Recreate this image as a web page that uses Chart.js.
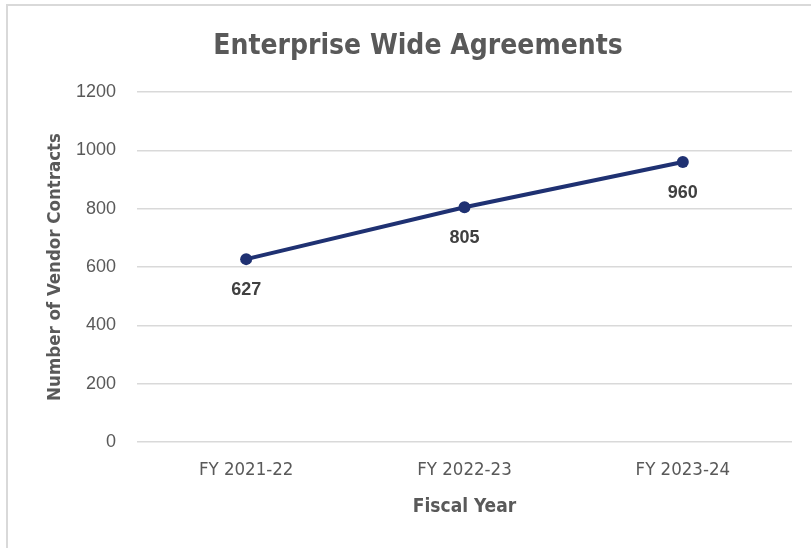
<!DOCTYPE html>
<html>
<head>
<meta charset="utf-8">
<script src="https://cdn.jsdelivr.net/npm/chart.js@4.4.1/dist/chart.umd.min.js"></script>
<style>
	html, body { margin: 0; padding: 0; background: #fff; }
	#frame {
		position: absolute; left: 6px; top: 4px; width: 900px; height: 600px;
		border-left: 2px solid #d9d9d9; border-top: 2px solid #d9d9d9;
	}
	#chart { position: absolute; left: 0; top: 0; }
</style>
</head>
<body>
<div id="frame"></div>
<canvas id="chart" width="811" height="548"></canvas>
<script>
const fiscal_years = ["FY 2021-22", "FY 2022-23", "FY 2023-24"];
const contracts = [627, 805, 960];
const y_ticks = [0, 200, 400, 600, 800, 1000, 1200];

const narrow = '"Liberation Sans Narrow", "DejaVu Sans Condensed", sans-serif';
const arial = '"Liberation Sans", Arial, sans-serif';
const line_color = '#1f3172';

// title drawn by hand so it can sit a bit right of centre like the original
const titlePlugin = {
	id: 'titlePlugin',
	afterDraw: function(chart) {
		const ctx = chart.ctx;
		ctx.save();
		ctx.font = 'bold 28px ' + narrow;
		ctx.fillStyle = '#595959';
		ctx.textAlign = 'center';
		ctx.textBaseline = 'alphabetic';
		ctx.fillText('Enterprise Wide Agreements', 418, 54);
		ctx.restore();
	}
};

// value labels under each point
const valueLabels = {
	id: 'valueLabels',
	afterDatasetsDraw: function(chart) {
		const ctx = chart.ctx;
		const meta = chart.getDatasetMeta(0);
		ctx.save();
		ctx.font = 'bold 18px ' + arial;
		ctx.fillStyle = '#404040';
		ctx.textAlign = 'center';
		ctx.textBaseline = 'middle';
		meta.data.forEach(function(pt, i) {
			ctx.fillText(String(contracts[i]), pt.x, pt.y + 31);
		});
		ctx.restore();
	}
};

const chart = new Chart(document.getElementById('chart'), {
	type: 'line',
	data: {
		labels: fiscal_years,
		datasets: [{
			label: 'Contracts',
			data: contracts,
			borderColor: line_color,
			backgroundColor: line_color,
			borderWidth: 4,
			pointRadius: 6,
			pointHoverRadius: 6,
			pointBorderWidth: 0,
			pointBackgroundColor: line_color,
			tension: 0
		}]
	},
	options: {
		responsive: false,
		animation: false,
		layout: { padding: { top: 92, right: 19, left: 0, bottom: 0 } },
		plugins: {
			legend: { display: false },
			title: { display: false },
			tooltip: { enabled: false }
		},
		scales: {
			x: {
				offset: true,
				grid: { display: false, drawTicks: false },
				border: { display: false },
				ticks: { color: '#595959', font: { family: narrow, size: 18.5 }, padding: 17 },
				title: {
					display: true, text: 'Fiscal Year', color: '#595959',
					font: { family: narrow, size: 19, weight: 'bold' },
					padding: { top: 0, bottom: 30 }
				},
				afterFit: function(scale) { scale.height = 106; }
			},
			y: {
				min: 0, max: 1200,
				afterBuildTicks: function(scale) {
					scale.ticks = y_ticks.map(function(v) { return { value: v }; });
				},
				grid: { color: '#d9d9d9', lineWidth: 1.5, drawTicks: false },
				border: { display: false },
				ticks: {
					color: '#595959', font: { family: arial, size: 18 }, padding: 21,
					callback: function(v) { return String(v); }
				},
				title: {
					display: true, text: 'Number of Vendor Contracts', color: '#595959',
					font: { family: narrow, size: 18.5, weight: 'bold' },
					padding: { top: 44, bottom: 0 }
				},
				afterFit: function(scale) { scale.width = 137; }
			}
		}
	},
	plugins: [titlePlugin, valueLabels]
});
</script>
</body>
</html>
